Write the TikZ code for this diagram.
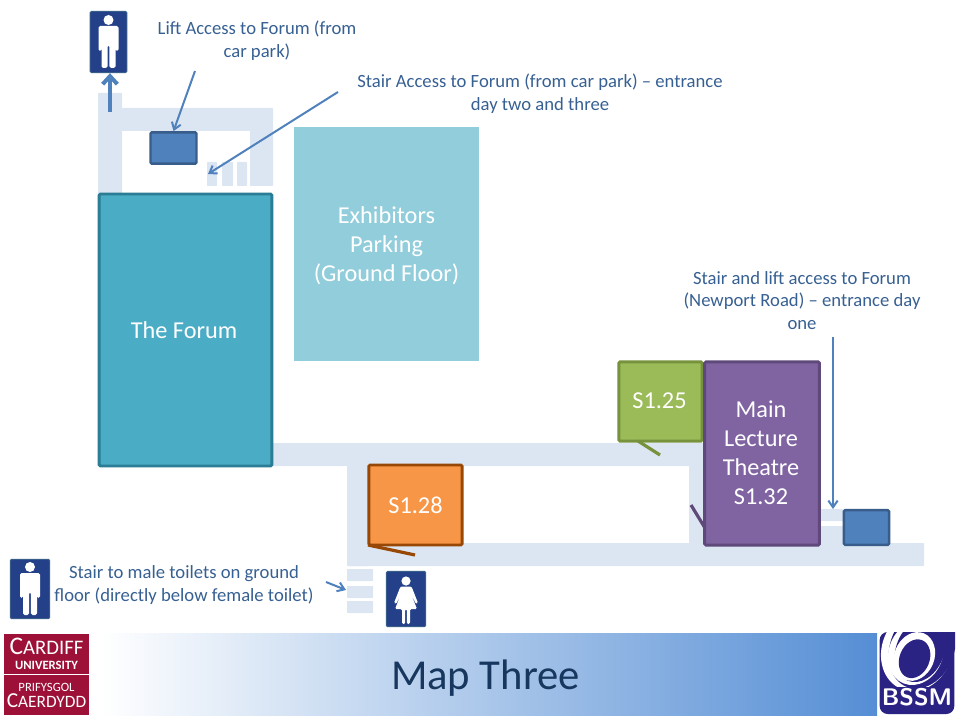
\documentclass[tikz,border=0pt]{standalone}
\usepackage{fontspec}
\setmainfont{Carlito}
\usetikzlibrary{arrows.meta}
\definecolor{corridorcolor}{RGB}{220,230,242}
\definecolor{forumcolor}{RGB}{75,172,198}
\definecolor{forumedge}{RGB}{42,125,148}
\definecolor{parkcolor}{RGB}{146,205,220}
\definecolor{greencolor}{RGB}{155,187,89}
\definecolor{greenedge}{RGB}{118,146,60}
\definecolor{purplecolor}{RGB}{128,100,162}
\definecolor{purpleedge}{RGB}{95,73,122}
\definecolor{orangecolor}{RGB}{247,150,70}
\definecolor{orangeedge}{RGB}{152,72,6}
\definecolor{liftcolor}{RGB}{79,129,189}
\definecolor{liftedge}{RGB}{56,93,138}
\definecolor{textcolor}{RGB}{55,96,146}
\definecolor{titlecolor}{RGB}{23,55,94}
\definecolor{barcolor}{RGB}{85,142,213}
\definecolor{iconcolor}{RGB}{36,64,136}
\definecolor{cardiffcolor}{RGB}{157,17,56}
\definecolor{bssmcolor}{RGB}{43,35,131}
\tikzset{
    roomnode/.style={draw, line width=2.2pt, rounded corners=1pt, text=white, align=center,
        font=\fontsize{18.2}{21.7}\selectfont},
    liftnode/.style={draw=liftedge, fill=liftcolor, line width=1.8pt, rounded corners=1pt},
    iconnode/.style={fill=iconcolor, draw=liftedge, line width=0.8pt, rounded corners=1pt},
    labelnode/.style={text=textcolor, align=center, inner sep=0pt, font=\fontsize{14}{17}\selectfont},
    logonode/.style={fill=cardiffcolor, text=white, align=center, inner sep=0pt},
    pointer/.style={-{Straight Barb[length=5pt,width=7pt]}, draw=liftcolor, line width=1.5pt},
    corridor/.style={fill=corridorcolor, rounded corners=0.5pt},
    man/.pic={
        \fill[white] (0,-22) circle (5);
        \fill[white, rounded corners=1.3] (-10,-16) -- (10,-16) -- (10,9) -- (7,9) -- (7,-9)
            -- (7,26) -- (0.8,26) -- (0.8,3) -- (-0.8,3) -- (-0.8,26) -- (-7,26)
            -- (-7,-9) -- (-7,9) -- (-10,9) -- cycle;
    },
    woman/.pic={
        \fill[white] (0,-18) circle (4.6);
        \fill[white, rounded corners=1] (-5.5,-12.5) -- (5.5,-12.5) -- (12,4) -- (10,5) -- (5,-5)
            -- (11,10) -- (4,10) -- (4,25) -- (0.8,25) -- (0.8,10) -- (-0.8,10) -- (-0.8,25)
            -- (-4,25) -- (-4,10) -- (-11,10) -- (-5,-5) -- (-10,5) -- (-12,4) -- cycle;
    }
}
\begin{document}
\begin{tikzpicture}[x=0.75pt, y=-0.75pt]
    \useasboundingbox (0,0) rectangle (960,720);

    % corridors at the top
    \fill[corridor] (98,93) rectangle (122,194);
    \fill[corridor] (122,108) rectangle (273,131);
    \fill[corridor] (250,131) rectangle (273,186);
    \foreach \x/\w in {207/10,222/11,237/10} {
        \fill[corridor] (\x,162) rectangle (\x+\w,186);
    }

    % corridors at the bottom
    \fill[corridor] (272,443) rectangle (705,466);
    \fill[corridor] (347,466) rectangle (369,566);
    \fill[corridor] (689,466) rectangle (705,543);
    \fill[corridor] (347,543) rectangle (924,566);
    \fill[corridor] (819,509) rectangle (844,521);
    \fill[corridor] (819,526) rectangle (844,543);
    \foreach \y in {569,586,601} {
        \fill[corridor] (347,\y) rectangle (373,\y+12);
    }

    % rooms
    \node[roomnode, draw=forumedge, fill=forumcolor, minimum width=129.5pt, minimum height=204pt] (forum) at (185.5,330) {};
    \node[roomnode, draw=none, inner sep=0pt] (forumtext) at (184,330) {The Forum};
    \node[roomnode, draw=none, fill=parkcolor, minimum width=139pt, minimum height=175.5pt, rounded corners=0pt] (parking) at (386.5,244) {};
    \node[roomnode, draw=none, inner sep=0pt] (parkingtext) at (386.5,245.5) {Exhibitors\\Parking\\(Ground Floor)};
    \node[roomnode, draw=greenedge, fill=greencolor, minimum width=62.5pt, minimum height=59.5pt] (roomA) at (660.5,401.5) {};
    \node[roomnode, draw=none, inner sep=0pt] (roomAtext) at (659.5,401) {S1.25};
    \node[roomnode, draw=purpleedge, fill=purplecolor, minimum width=86pt, minimum height=137.5pt] (theatre) at (762,453.5) {};
    \node[roomnode, draw=none, fill=none, inner sep=0pt] (theatretext) at (761,453) {Main\\Lecture\\Theatre\\S1.32};
    \node[roomnode, draw=orangeedge, fill=orangecolor, minimum width=70pt, minimum height=60pt] (roomB) at (415.5,505) {S1.28};

    % small ticks on the rooms
    \coordinate (roomAend) at (660,455);
    \coordinate (theatreend) at (691,505);
    \coordinate (roomBend) at (415,555);
    \draw[draw=greenedge, line width=2.4pt] (638,441) -- (roomAend);
    \draw[draw=purpleedge, line width=2.4pt] (705,528) -- (theatreend);
    \draw[draw=orangeedge, line width=2.4pt] (368,545) -- (roomBend);

    % lifts
    \node[liftnode, minimum width=34.5pt, minimum height=23.5pt] (liftA) at (173.5,148) {};
    \node[liftnode, minimum width=34pt, minimum height=26pt] (liftB) at (866.5,527.5) {};

    % toilets
    \node[iconnode, minimum width=27.5pt, minimum height=46pt] (manA) at (108.5,42) {};
    \pic at (manA) {man};
    \node[iconnode, minimum width=29.5pt, minimum height=44.5pt] (manB) at (30,589) {};
    \pic at (manB) {man};
    \node[iconnode, minimum width=29.5pt, minimum height=41.5pt] (womanA) at (406,599) {};
    \pic at (womanA) {woman};

    % labels
    \node[labelnode] (liftlabel) at (257,41) {Lift Access to Forum (from\\car park)};
    \node[labelnode] (stairlabel) at (540,94) {Stair Access to Forum (from car park) -- entrance\\day two and three};
    \node[labelnode] (accesslabel) at (802,300.5) {Stair and lift access to Forum\\(Newport Road) -- entrance day\\one};
    \node[labelnode] (toiletlabel) at (184,585) {Stair to male toilets on ground\\floor (directly below female toilet)};

    % pointers
    \coordinate (upstart) at (110,112);
    \coordinate (liftstart) at (195,71);
    \coordinate (stairstart) at (338,92);
    \coordinate (stairend) at (208,174);
    \coordinate (accessstart) at (833,337);
    \coordinate (accessend) at (833,509);
    \coordinate (toiletstart) at (326,582);
    \coordinate (toiletend) at (346,590);
    \draw[pointer, line width=3pt, -{Straight Barb[length=6pt,width=11pt]}] (upstart) -- (manA.south -| upstart);
    \draw[pointer] (liftstart) -- (liftA.north);
    \draw[pointer] (stairstart) -- (stairend);
    \draw[pointer] (accessstart) -- (accessend);
    \draw[pointer] (toiletstart) -- (toiletend);

    % footer
    \shade[left color=white, right color=barcolor] (100,633) rectangle (877,715);
    \node[text=titlecolor, font=\fontsize{32}{38}\selectfont, inner sep=0pt] (title) at (485.5,678) {Map Three};

    % logos
    \node[logonode, minimum width=63.75pt, minimum height=30pt] (cardiff) at (46.5,653.5)
        {{\fontsize{19}{19}\selectfont C}{\fontsize{15.5}{15.5}\selectfont ARDIFF}\\[-1pt]{\fontsize{9.5}{9.5}\selectfont\bfseries UNIVERSITY}};
    \node[logonode, minimum width=63.75pt, minimum height=30pt] (caerdydd) at (46.5,695)
        {{\fontsize{9.5}{9.5}\selectfont PRIFYSGOL}\\[0pt]{\fontsize{16}{16}\selectfont C}{\fontsize{13}{13}\selectfont AERDYDD}};
    \node[fill=bssmcolor, rounded corners=6pt, minimum width=56pt, minimum height=61.5pt, inner sep=0pt] (bssm) at (917,673) {};
    \begin{scope}
        \clip (880,632) rectangle (955,686);
        \fill[white, rotate around={-22:(917,650)}] (917,650) ellipse (35 and 42);
        \fill[bssmcolor, rotate around={-22:(917,650)}] (921,646) ellipse (32 and 42);
        \fill[white, rotate around={-22:(917,650)}] (917,653) ellipse (27 and 33);
        \fill[bssmcolor, rotate around={-22:(917,650)}] (920,649) ellipse (24 and 33);
        \fill[white, rotate around={-22:(917,650)}] (917,657) ellipse (20 and 25);
        \fill[bssmcolor, rotate around={-22:(917,650)}] (918,659) ellipse (15 and 20);
    \end{scope}
    \node[text=white, font=\fontsize{18}{18}\selectfont\sffamily\bfseries, inner sep=0pt] (bssmtext) at (917,697) {BSSM};
\end{tikzpicture}
\end{document}
